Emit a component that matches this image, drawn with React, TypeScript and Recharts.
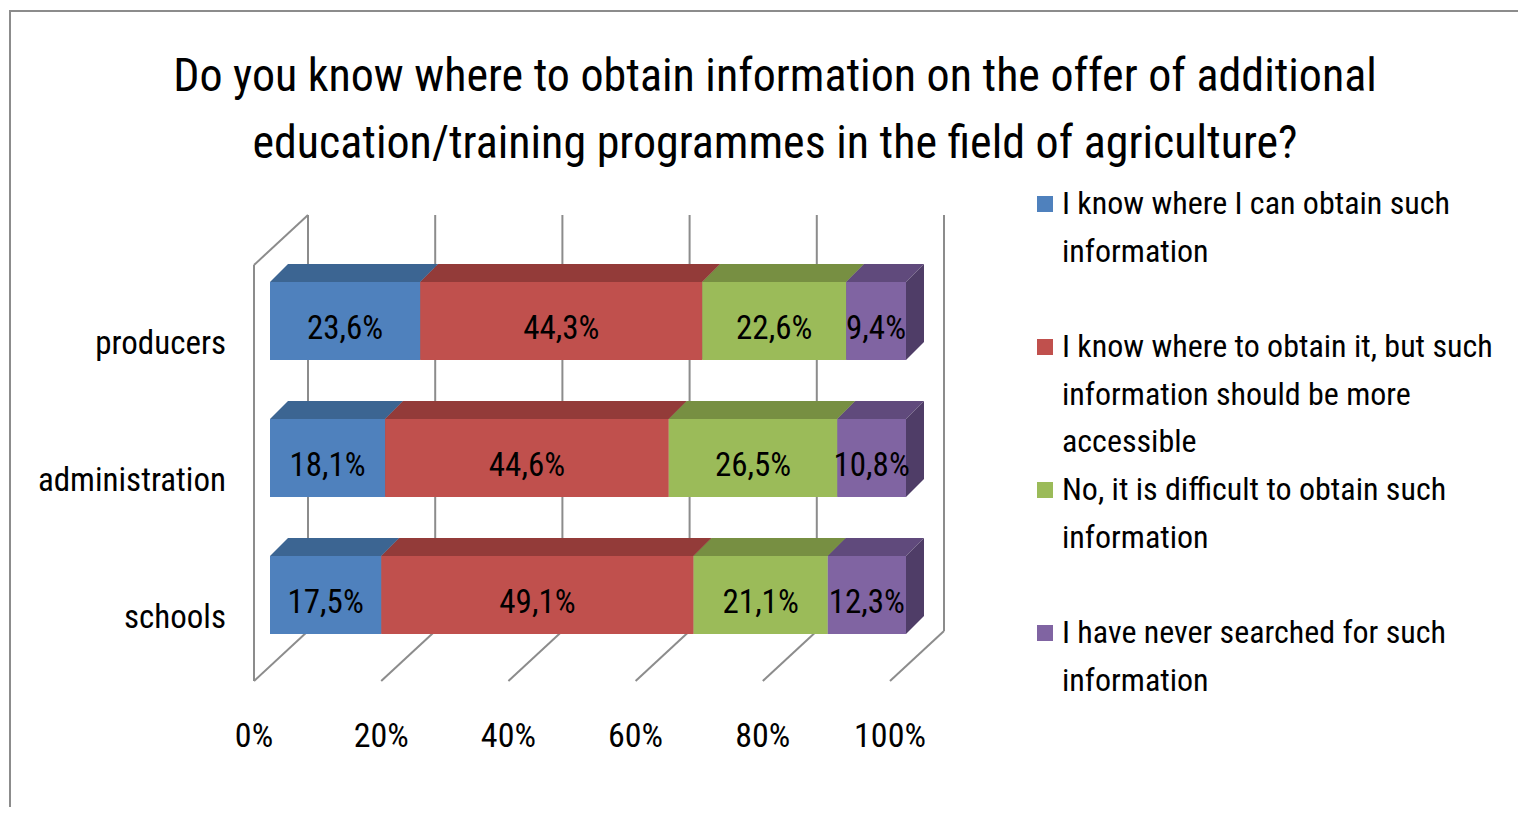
import React from "react";
import { BarChart, Bar, XAxis, YAxis, CartesianGrid, LabelList } from "recharts";

const titleLines = [
  "Do you know where to obtain information on the offer of additional",
  "education/training programmes in the field of agriculture?",
];
const categories = ["producers", "administration", "schools"];
const seriesNames = [
  "I know where I can obtain such information",
  "I know where to obtain it, but such information should be more accessible",
  "No, it is difficult to obtain such information",
  "I have never searched for such information",
];
const knowWhere = [23.6, 18.1, 17.5];
const knowButShouldBeAccessible = [44.3, 44.6, 49.1];
const difficultToObtain = [22.6, 26.5, 21.1];
const neverSearched = [9.4, 10.8, 12.3];
const xTicks = [0, 0.2, 0.4, 0.6, 0.8, 1];

const FONT = "'Liberation Sans Narrow', 'Roboto Condensed', Roboto, sans-serif";
const GRID = "#8c8c8c";
const DX = 18;
const DY = 18;

const palette = [
  { front: "#4f81bd", top: "#3c6592", side: "#2f4f73" },
  { front: "#c0504d", top: "#933b39", side: "#7a302e" },
  { front: "#9bbb59", top: "#778f42", side: "#627634" },
  { front: "#8064a2", top: "#604a7c", side: "#4f3d67" },
];

const keys = ["s0", "s1", "s2", "s3"];

const data = categories.map((name, i) => ({
  name,
  s0: knowWhere[i],
  s1: knowButShouldBeAccessible[i],
  s2: difficultToObtain[i],
  s3: neverSearched[i],
}));

const pct = (v: number) => `${v.toFixed(1).replace(".", ",")}%`;

const box3d = (c: { front: string; top: string; side: string }) => (props: any) => {
  const { x, y, width, height } = props;
  if (width == null || height == null) return null;
  return (
    <g>
      <polygon
        points={`${x},${y} ${x + DX},${y - DY} ${x + width + DX},${y - DY} ${x + width},${y}`}
        fill={c.top}
      />
      <polygon
        points={`${x + width},${y} ${x + width + DX},${y - DY} ${x + width + DX},${y + height - DY} ${x + width},${y + height}`}
        fill={c.side}
      />
      <rect x={x} y={y} width={width} height={height} fill={c.front} />
    </g>
  );
};

// back wall gridlines + floor diagonals, offset from the bar plane
const wallLine = (props: any) => {
  const { x1, y1, y2, index, key } = props;
  const top = Math.min(y1, y2);
  const bottom = Math.max(y1, y2);
  const front = x1 - 16;
  const back = x1 + 38;
  const st = { stroke: GRID, strokeWidth: 2 };
  return (
    <g key={key ?? `w${index}`}>
      <line x1={back} y1={top - 37} x2={back} y2={bottom - 32} {...st} />
      <line x1={front} y1={bottom + 18} x2={back} y2={bottom - 32} {...st} />
      {index === 0 && (
        <>
          <line x1={front} y1={top + 13} x2={front} y2={bottom + 18} {...st} />
          <line x1={front} y1={top + 13} x2={back} y2={top - 37} {...st} />
        </>
      )}
    </g>
  );
};

const XTick = (props: any) => {
  const { x, y, payload } = props;
  return (
    <text x={x - 16} y={y + 72} textAnchor="middle" dominantBaseline="central"
      fontFamily={FONT} fontSize={34} fill="#000">
      {`${Math.round(payload.value * 100)}%`}
    </text>
  );
};

const YTick = (props: any) => {
  const { x, y, payload } = props;
  return (
    <text x={x - 44} y={y + 22} textAnchor="end" dominantBaseline="central"
      fontFamily={FONT} fontSize={33} fill="#000">
      {payload.value}
    </text>
  );
};

const valueLabel = (props: any) => {
  const { x, y, width, height, value } = props;
  return (
    <text x={x + width / 2} y={y + height / 2 + 6} textAnchor="middle" dominantBaseline="central"
      fontFamily={FONT} fontSize={33} fill="#000">
      {pct(Number(value))}
    </text>
  );
};

export default function App() {
  return (
    <div style={{ position: "relative", width: 1510, height: 807, marginBottom: -8, overflow: "hidden", fontFamily: FONT }}>
      <div style={{ position: "absolute", left: 1, top: 2, width: 1600, height: 900, border: "2px solid #8c8c8c" }} />
      <div style={{ position: "absolute", left: 0, top: 34, width: 1534, textAlign: "center",
        fontSize: 46, lineHeight: "67px", color: "#000" }}>
        {titleLines.map((t) => <div key={t}>{t}</div>)}
      </div>
      <div style={{ position: "absolute", left: 0, top: 0 }}>
        <BarChart width={1510} height={799} data={data} layout="vertical" stackOffset="expand"
          barSize={78} margin={{ top: 244, right: 612, bottom: 114, left: 62 }}>
          <CartesianGrid horizontal={false} vertical={wallLine} />
          <XAxis type="number" domain={[0, 1]} ticks={xTicks} axisLine={false} tickLine={false}
            tickSize={0} tickMargin={0} tick={XTick} interval={0} />
          <YAxis type="category" dataKey="name" width={200} axisLine={false} tickLine={false}
            tickSize={0} tickMargin={0} tick={YTick} />
          {keys.map((k, i) => (
            <Bar key={k} dataKey={k} name={seriesNames[i]} stackId="a" fill={palette[i].front}
              shape={box3d(palette[i])} isAnimationActive={false}>
              <LabelList dataKey={k} content={valueLabel} />
            </Bar>
          ))}
        </BarChart>
      </div>
      <div style={{ position: "absolute", left: 1029, top: 172, width: 480 }}>
        {seriesNames.map((n, i) => (
          <div key={n} style={{ position: "relative", height: 143 }}>
            <div style={{ position: "absolute", left: 0, top: 16, width: 16, height: 16, background: palette[i].front }} />
            <div style={{ paddingLeft: 25, fontSize: 32, lineHeight: "47.5px", color: "#000" }}>{n}</div>
          </div>
        ))}
      </div>
    </div>
  );
}
